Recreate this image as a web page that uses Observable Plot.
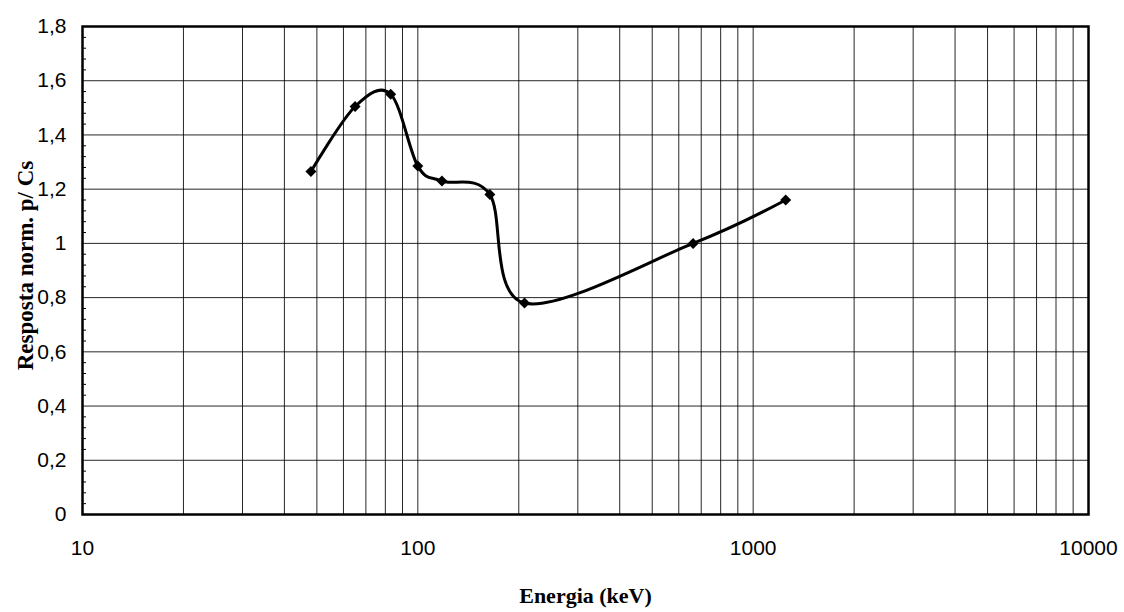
<!DOCTYPE html>
<html>
<head>
<meta charset="utf-8">
<script src="https://cdn.jsdelivr.net/npm/d3@7"></script>
<script src="https://cdn.jsdelivr.net/npm/@observablehq/plot@0.6"></script>
<style>
  html, body { margin: 0; padding: 0; background: #fff; }
  #chart svg { display: block; }
</style>
</head>
<body>
<div id="chart"></div>
<script>
// Data
const energies = [48, 65, 83, 100, 118, 164, 208, 662, 1250];        // keV
const responses = [1.265, 1.505, 1.55, 1.285, 1.23, 1.18, 0.78, 1.0, 1.16];

// Tick labels
const xTickLabels = [10, 100, 1000, 10000];
const yTickLabels = [0, 0.2, 0.4, 0.6, 0.8, 1.0, 1.2, 1.4, 1.6, 1.8];
const xLabel = "Energia (keV)";
const yLabel = "Resposta norm. p/ Cs";

const data = energies.map((e, i) => ({energy: e, response: responses[i]}));

// Log grid lines (2..9 in each decade, plus inner decades)
const xGrid = [];
for (const dec of [10, 100, 1000]) for (let m = 1; m <= 9; m++) if (!(dec === 10 && m === 1)) xGrid.push(dec * m);
const yGrid = yTickLabels.filter(v => v > 0 && v < 1.8);
const yMinor = d3.range(0, 46).map(i => +(i * 0.04).toFixed(2)).filter((v, i) => i % 5 !== 0);

const fmtY = d => d === 0 ? "0" : d === 1 ? "1" : d.toFixed(1).replace(".", ",");

const diamond = {
  draw(ctx, size) {
    const h = Math.sqrt(size / Math.PI);
    ctx.moveTo(0, -h); ctx.lineTo(h, 0); ctx.lineTo(0, h); ctx.lineTo(-h, 0); ctx.closePath();
  }
};

const chart = Plot.plot({
  width: 1124,
  height: 612,
  marginLeft: 82,
  marginRight: 36,
  marginTop: 26,
  marginBottom: 98,
  style: {fontFamily: "'Liberation Sans', Arial, sans-serif", fontSize: "21px", color: "#000", background: "#fff"},
  x: {type: "log", domain: [10, 10000]},
  y: {domain: [0, 1.8]},
  marks: [
    Plot.gridX(xGrid, {stroke: "#000", strokeOpacity: 0.85, strokeWidth: 1}),
    Plot.gridY(yGrid, {stroke: "#000", strokeOpacity: 0.85, strokeWidth: 1}),
    Plot.tickY(yMinor, {y: d => d, insetRight: 1002, stroke: "#000", strokeWidth: 1}),
    Plot.axisY(yTickLabels, {tickSize: 0, tickPadding: 16, tickFormat: fmtY, label: null, fontSize: 21}),
    Plot.axisX(xTickLabels, {tickSize: 0, tickPadding: 26, tickFormat: d => String(d), label: null, fontSize: 21}),
    Plot.frame({stroke: "#000", strokeWidth: 2.5}),
    Plot.line(data, {x: "energy", y: "response", curve: "cardinal", tension: 0, stroke: "#000", strokeWidth: 3}),
    Plot.dot(data, {x: "energy", y: "response", symbol: diamond, r: 5.5, fill: "#000", stroke: "none"}),
    Plot.text([xLabel], {frameAnchor: "bottom", dy: 88, fontFamily: "'Liberation Serif', 'Times New Roman', serif", fontWeight: "bold", fontSize: 22, fill: "#000"}),
    Plot.text([yLabel], {frameAnchor: "left", textAnchor: "middle", dx: -57, dy: -5, rotate: -90, fontFamily: "'Liberation Serif', 'Times New Roman', serif", fontWeight: "bold", fontSize: 23, fill: "#000"})
  ]
});
document.getElementById("chart").appendChild(chart);
</script>
</body>
</html>
